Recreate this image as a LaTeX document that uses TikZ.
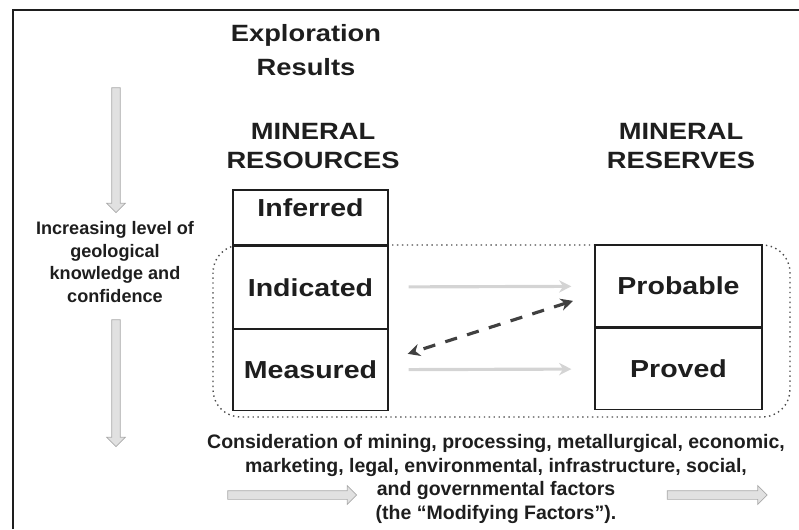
\documentclass[tikz,border=0pt]{standalone}
\usepackage{fontspec}
\setmainfont{Liberation Sans}
\newfontfamily\widesans{Liberation Sans}[FakeStretch=1.16]
\usetikzlibrary{shapes.arrows, arrows.meta, positioning, calc}
\definecolor{inkgrey}{RGB}{30, 30, 30}
\definecolor{fadegrey}{RGB}{212, 212, 212}
\definecolor{rimgrey}{RGB}{170, 170, 170}

\begin{document}
\begin{tikzpicture}[
    x=0.02cm, y=-0.02cm,
    title/.style={align=center, text=inkgrey, font=\widesans\bfseries\fontsize{13.4}{17}\selectfont},
    resbox/.style={rectangle, draw=inkgrey, line width=0.7pt, fill=white, text=inkgrey, font=\widesans\bfseries\fontsize{14}{16}\selectfont},
    note/.style={align=center, text=inkgrey, font=\bfseries\fontsize{10.3}{13}\selectfont},
    zone/.style={draw=inkgrey!80, dotted, line width=0.8pt, rounded corners=0.55cm},
    fadearrow/.style={single arrow, draw=rimgrey, line width=0.4pt, fill=fadegrey!70, inner sep=0.08cm, single arrow head extend=0.1cm},
    link/.style={-{Stealth[length=7pt, width=7pt]}, draw=fadegrey, line width=1.8pt, shorten <=0.4cm, shorten >=0.46cm},
    dashlink/.style={{Stealth[length=7pt, width=7pt]}-{Stealth[length=7pt, width=7pt]}, draw=inkgrey!85, line width=1.8pt, dash pattern=on 7pt off 6pt, shorten <=0.45cm, shorten >=0.4cm}
]

\useasboundingbox (0,0) rectangle (799,529);
\draw[inkgrey, line width=1pt] (13,529) -- (13,10) -- (799,10);

% headings
\node[title, font=\widesans\bfseries\fontsize{13.4}{19.3}\selectfont] (explore) at (306,50) {Exploration\\Results};
\node[title] (resources) at (313,146) {MINERAL\\RESOURCES};
\node[title] (reserves) at (681,146) {MINERAL\\RESERVES};

% dotted zone round the convertible categories
\draw[zone] (213,245) rectangle (790,417);

% resource and reserve categories
\node[resbox, minimum width=3.1cm, minimum height=1.1cm, text depth=0.4cm] (inferred) at (310.5,217.5) {Inferred};
\node[resbox, minimum width=3.1cm, minimum height=1.64cm, below=0pt of inferred] (indicated) {Indicated};
\node[resbox, minimum width=3.1cm, minimum height=1.62cm, below=0pt of indicated] (measured) {Measured};
\node[resbox, minimum width=3.34cm, minimum height=1.64cm] (probable) at (678.5,286) {Probable};
\node[resbox, minimum width=3.34cm, minimum height=1.62cm, below=0pt of probable] (proved) {Proved};

\draw[link] (indicated) -- (probable);
\draw[link] (measured) -- (proved);
\draw[dashlink] ([yshift=-0.16cm]probable.west) -- ([yshift=0.2cm]measured.east);

% confidence axis
\node[fadearrow, minimum height=2.5cm, rotate=-90] (downtop) at (116,148) {};
\node[note] (knowledge) at (115,262) {Increasing level of\\geological\\knowledge and\\confidence};
\node[fadearrow, minimum height=2.54cm, rotate=-90] (downbottom) at (116,381) {};

% modifying factors
\node[note, font=\bfseries\fontsize{11.1}{13.6}\selectfont] (factors) at (496,479) {Consideration of mining, processing, metallurgical, economic,\\marketing, legal, environmental, infrastructure, social,\\and governmental factors\\(the “Modifying Factors”).};
\node[fadearrow, minimum height=2.58cm] (factorsleft) at (290,495) {};
\node[fadearrow, minimum height=2cm] (factorsright) at (715,495) {};

\end{tikzpicture}
\end{document}
